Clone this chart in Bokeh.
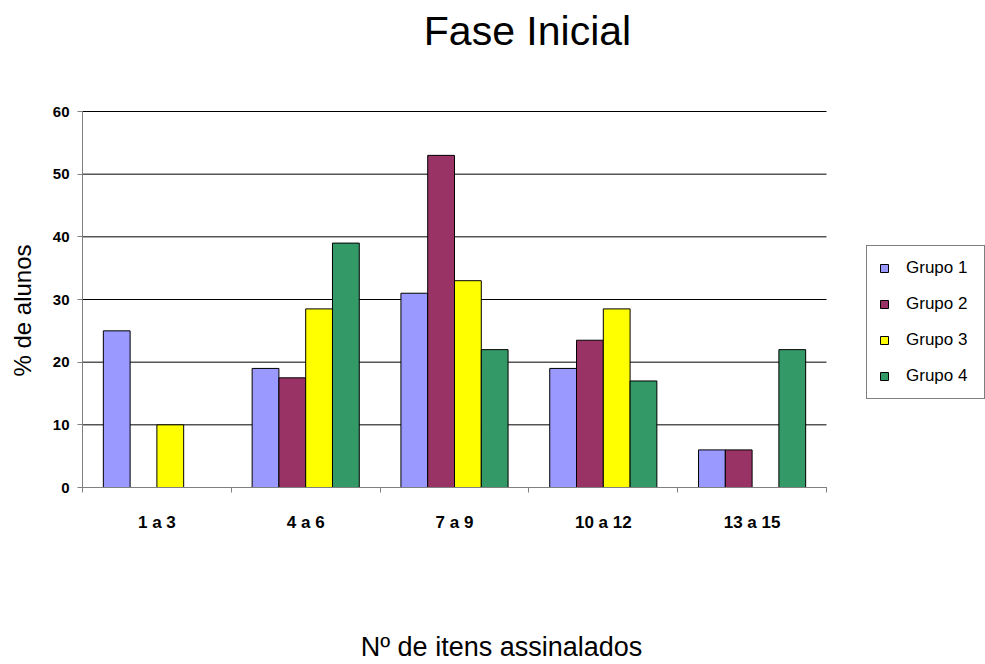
import math
from bokeh.plotting import figure
from bokeh.models import (ColumnDataSource, FixedTicker, Legend, LegendItem, Label)
from bokeh.embed import file_html
from bokeh.resources import INLINE

# Faixas de itens assinalados e % de alunos por grupo
categorias = ["1 a 3", "4 a 6", "7 a 9", "10 a 12", "13 a 15"]
grupo1 = [25, 19, 31, 19, 6]
grupo2 = [0, 17.5, 53, 23.5, 6]
grupo3 = [10, 28.5, 33, 28.5, 0]
grupo4 = [0, 39, 22, 17, 22]

series = [("Grupo 1", grupo1, "#9999FF"),
          ("Grupo 2", grupo2, "#993366"),
          ("Grupo 3", grupo3, "#FFFF00"),
          ("Grupo 4", grupo4, "#339966")]
y_ticks = [0, 10, 20, 30, 40, 50, 60]
y_max = 60

FONT = "Liberation Sans"
BAR_W = 0.18

# Canvas and plotting box (pixels)
W, H = 985, 664
BOX_L, BOX_R, BOX_T, BOX_B = 82, 826, 111, 487

ncat = len(categorias)
px_x = (BOX_R - BOX_L) / ncat          # pixels per category
px_y = (BOX_B - BOX_T) / y_max         # pixels per % unit
x_range = (-BOX_L / px_x, (W - BOX_L) / px_x)
y_range = (-(H - BOX_B) / px_y, BOX_B / px_y)

p = figure(width=W, height=H, x_range=x_range, y_range=y_range,
           output_backend="svg", toolbar_location=None,
           min_border=0, min_border_left=0, min_border_right=0,
           min_border_top=0, min_border_bottom=0)
p.title.text = ""
p.title.visible = False
p.outline_line_color = None
p.background_fill_color = "white"
p.border_fill_color = "white"
p.xgrid.visible = False
p.ygrid.visible = False

# horizontal gridlines across the category span only
p.segment(x0=[0] * len(y_ticks), x1=[ncat] * len(y_ticks),
          y0=y_ticks, y1=y_ticks, line_color="black", line_width=1)

# barras agrupadas
items = []
n = len(series)
for k, (nome, vals, cor) in enumerate(series):
    off = (k - (n - 1) / 2) * BAR_W
    xs = [i + 0.5 + off for i, v in enumerate(vals) if v > 0]
    ys = [v for v in vals if v > 0]
    src = ColumnDataSource(dict(x=xs, top=ys))
    r = p.vbar(x="x", top="top", bottom=0, width=BAR_W, source=src,
               fill_color=cor, line_color="black", line_width=1)
    items.append(LegendItem(label=nome, renderers=[r]))

# eixo x: rótulos no centro das faixas, marcas nas divisões
xa = p.xaxis[0]
xa.fixed_location = 0
xa.bounds = (0, ncat)
xa.ticker = FixedTicker(ticks=[i + 0.5 for i in range(ncat)],
                        minor_ticks=list(range(ncat + 1)))
xa.major_label_overrides = {i + 0.5: c for i, c in enumerate(categorias)}
xa.major_tick_line_color = None
xa.major_tick_out = 0
xa.major_tick_in = 0
xa.minor_tick_out = 5
xa.minor_tick_in = 0
xa.minor_tick_line_color = "#808080"
xa.axis_line_color = "#808080"
xa.major_label_text_font = FONT
xa.major_label_text_font_style = "bold"
xa.major_label_text_font_size = "17px"
xa.major_label_standoff = 20
xa.major_label_text_color = "black"

ya = p.yaxis[0]
ya.fixed_location = 0
ya.bounds = (0, y_max)
ya.ticker = FixedTicker(ticks=y_ticks)
ya.major_tick_out = 5
ya.major_tick_in = 0
ya.minor_tick_line_color = None
ya.major_tick_line_color = "#808080"
ya.axis_line_color = "#808080"
ya.major_label_text_font = FONT
ya.major_label_text_font_style = "bold"
ya.major_label_text_font_size = "15px"
ya.major_label_standoff = 8
ya.major_label_text_color = "black"

# títulos
p.add_layout(Label(x=527, y=H - 30, x_units="screen", y_units="screen",
                   text="Fase Inicial", text_font=FONT, text_font_size="41px",
                   text_color="black", text_align="center",
                   text_baseline="middle"))
p.add_layout(Label(x=501, y=H - 646, x_units="screen", y_units="screen",
                   text="Nº de itens assinalados", text_font=FONT,
                   text_font_size="27px", text_color="black",
                   text_align="center", text_baseline="middle"))
p.add_layout(Label(x=22, y=H - 310, x_units="screen", y_units="screen",
                   text="% de alunos", text_font=FONT, text_font_size="24px",
                   text_color="black", text_align="center",
                   text_baseline="middle", angle=math.pi / 2))

legend = Legend(items=items, location=(866, H - 399),
                label_text_font=FONT, label_text_font_size="17px",
                label_text_color="black",
                glyph_width=10, glyph_height=10, label_standoff=17,
                label_width=66, label_height=20, spacing=16, padding=12,
                border_line_color="black", border_line_width=1,
                background_fill_color="white", margin=0)
p.add_layout(legend)

open("out.html", "w").write(file_html(p, INLINE))
